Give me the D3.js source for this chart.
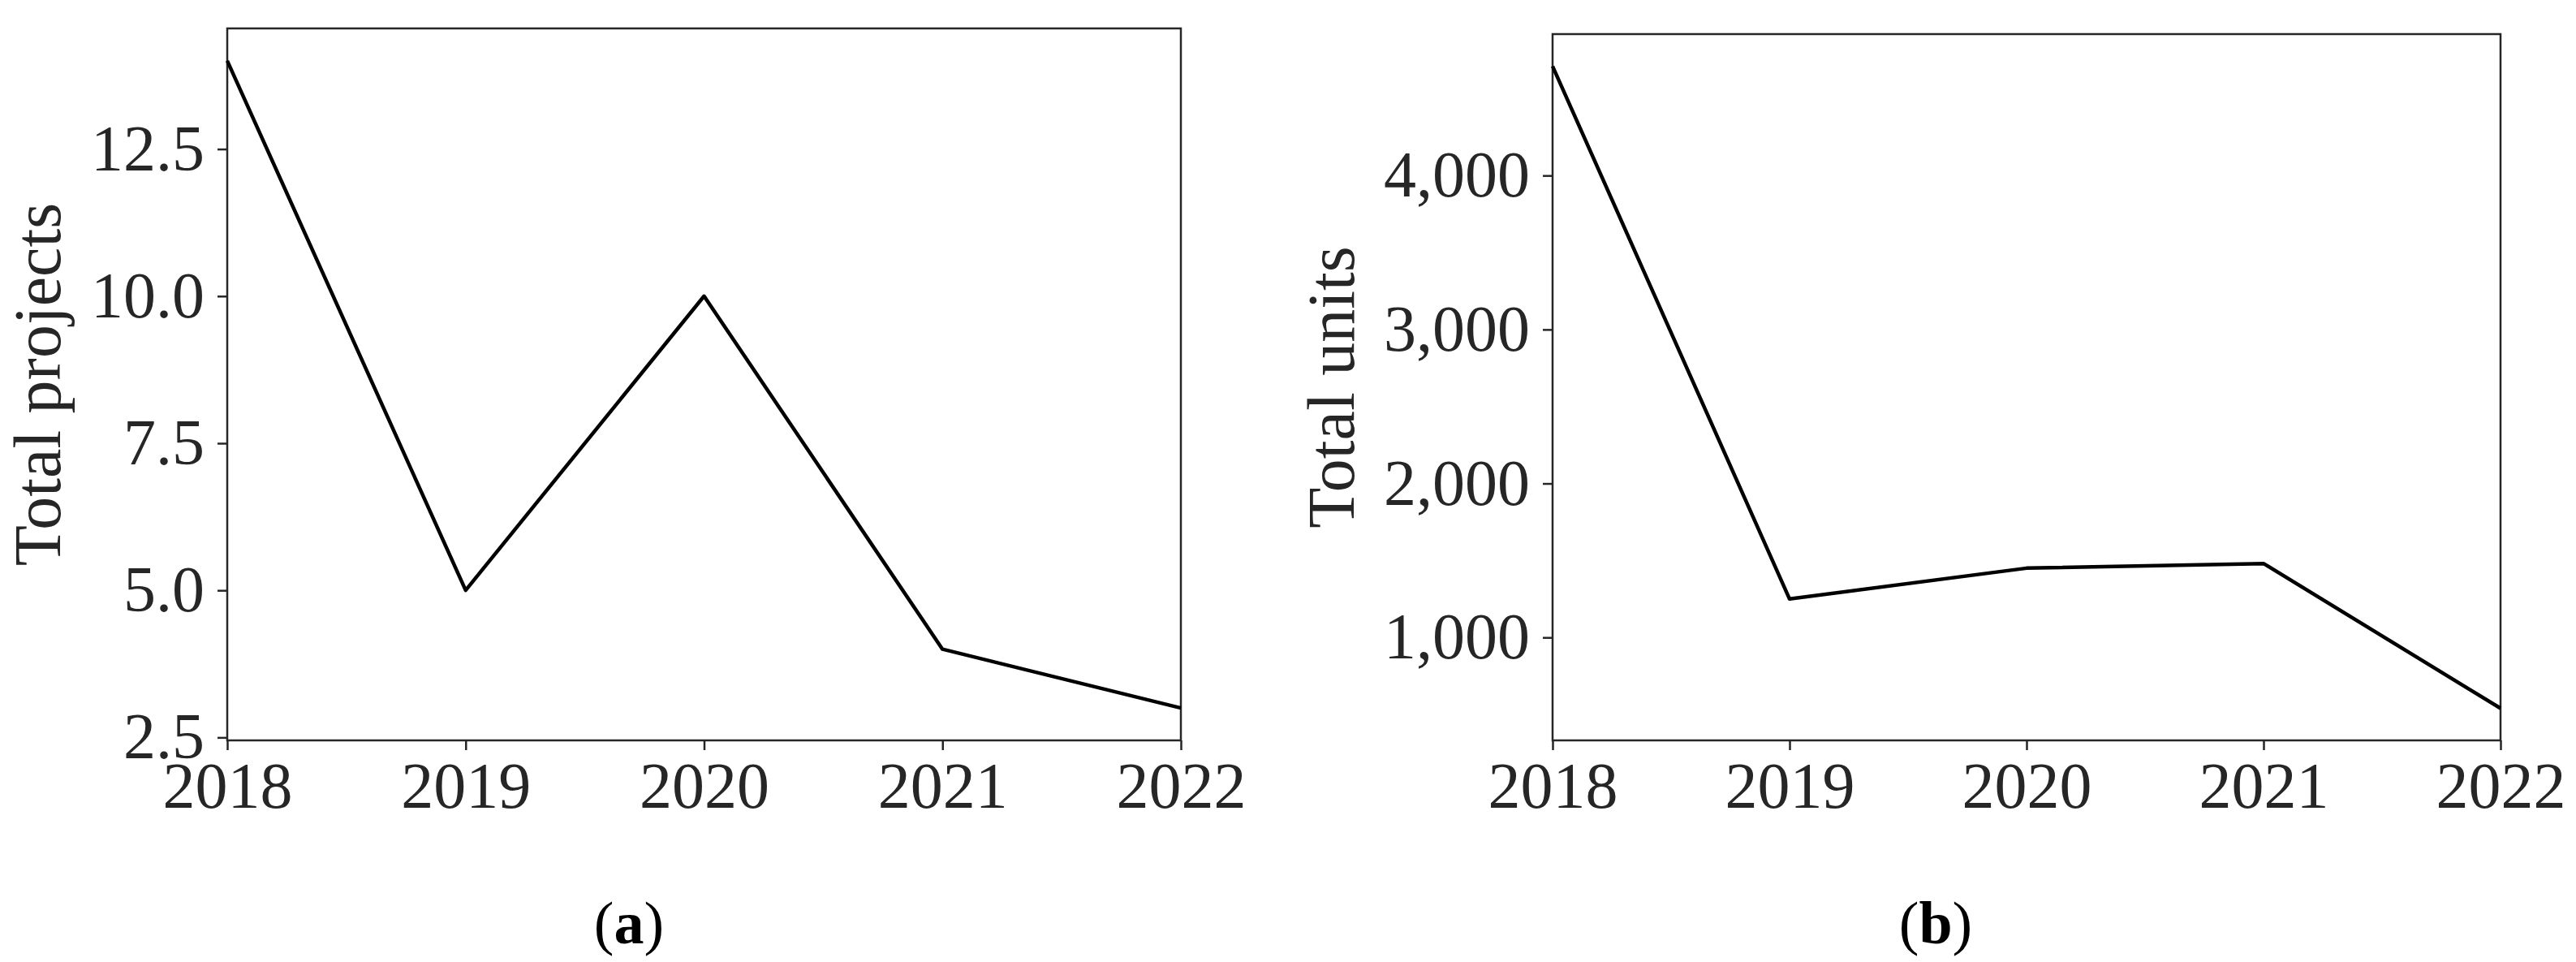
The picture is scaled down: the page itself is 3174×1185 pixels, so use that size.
<!DOCTYPE html>
<html>
<head>
<meta charset="utf-8">
<script src="https://cdn.jsdelivr.net/npm/d3@7"></script>
<style>
  html, body { margin: 0; padding: 0; background: #fff; }
  text { font-family: 'Liberation Serif', 'Times New Roman', serif; fill: #262626; }
</style>
</head>
<body>
<div id="canvas"></div>
<script>
const years = [2018, 2019, 2020, 2021, 2022]
const projects = [14, 5, 10, 4, 3]
const units = [4710, 1250, 1450, 1480, 540]
const projectTicks = [2.5, 5.0, 7.5, 10.0, 12.5]
const unitTicks = [1000, 2000, 3000, 4000]

const width = 3174
const height = 1185

const svg = d3.select('#canvas')
  .append('svg')
    .attr('width', width)
    .attr('height', height)

// matplotlib style 5% margin on y
function padded(values) {
  const [lo, hi] = d3.extent(values)
  const m = (hi - lo) * 0.05
  return [lo - m, hi + m]
}

function panel(opts) {
  const { left, right, top, bottom, values, ticks, fmt, label, labelX, caption, captionX } = opts

  const x = d3.scaleLinear().domain([years[0], years[years.length - 1]]).range([left, right])
  const y = d3.scaleLinear().domain(padded(values)).range([bottom, top])

  const g = svg.append('g')

  const yAxis = g.append('g')
    .attr('transform', `translate(${left},0)`)
    .call(d3.axisLeft(y).tickValues(ticks).tickFormat(fmt).tickSize(12).tickPadding(16))
  yAxis.select('.domain').remove()
  yAxis.selectAll('line').attr('stroke', '#262626').attr('stroke-width', 2.5)
  yAxis.selectAll('text').attr('font-size', 80).attr('fill', '#262626')
    .attr('font-family', "'Liberation Serif', serif")

  const xAxis = g.append('g')
    .attr('transform', `translate(0,${bottom})`)
    .call(d3.axisBottom(x).tickValues(years).tickFormat(d3.format('d')).tickSize(12).tickPadding(14))
  xAxis.select('.domain').remove()
  xAxis.selectAll('line').attr('stroke', '#262626').attr('stroke-width', 2.5)
  xAxis.selectAll('text').attr('font-size', 80).attr('fill', '#262626')
    .attr('font-family', "'Liberation Serif', serif")

  g.append('rect')
    .attr('x', left).attr('y', top)
    .attr('width', right - left).attr('height', bottom - top)
    .attr('fill', 'none').attr('stroke', '#262626').attr('stroke-width', 2.5)

  g.append('path')
    .datum(values)
    .attr('fill', 'none')
    .attr('stroke', '#000')
    .attr('stroke-width', 4.5)
    .attr('stroke-linejoin', 'round')
    .attr('d', d3.line().x((d, i) => x(years[i])).y(d => y(d)))

  g.append('text')
    .attr('transform', `translate(${labelX},${(top + bottom) / 2}) rotate(-90)`)
    .attr('text-anchor', 'middle')
    .attr('font-size', 82)
    .text(label)

  const cap = g.append('text')
    .attr('x', captionX).attr('y', 1162)
    .attr('text-anchor', 'middle')
    .attr('font-size', 74)
    .attr('fill', '#000')
  cap.append('tspan').text('(').attr('fill', '#000')
  cap.append('tspan').text(caption).attr('font-weight', 'bold').attr('fill', '#000')
  cap.append('tspan').text(')').attr('fill', '#000')
}

panel({
  left: 280, right: 1455, top: 35, bottom: 912,
  values: projects, ticks: projectTicks, fmt: d3.format('.1f'),
  label: 'Total projects', labelX: 74, caption: 'a', captionX: 775
})

panel({
  left: 1913, right: 3081, top: 42, bottom: 912,
  values: units, ticks: unitTicks, fmt: d3.format(','),
  label: 'Total units', labelX: 1668, caption: 'b', captionX: 2385
})
</script>
</body>
</html>
